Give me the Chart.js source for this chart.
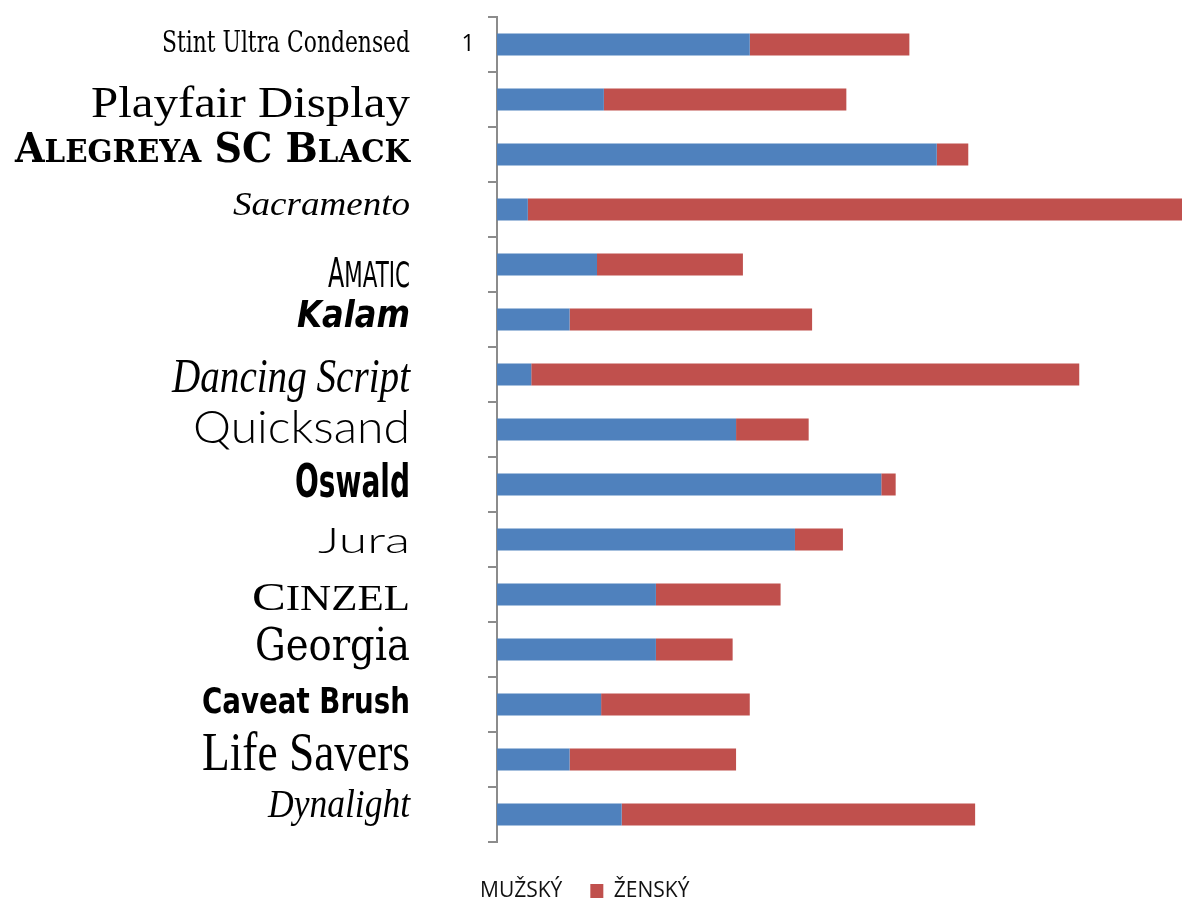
<!DOCTYPE html>
<html>
<head>
<meta charset="utf-8">
<script src="https://cdn.jsdelivr.net/npm/chart.js"></script>
<style>
  html, body { margin: 0; padding: 0; background: #fff; }
  #wrap { width: 1182px; height: 903px; }
</style>
</head>
<body>
<div id="wrap"><canvas id="fontsChart" width="1182" height="903"></canvas></div>
<script>
// fonts rated by respondents, split by gender
const fontNames = [
    'Stint Ultra Condensed', 'Playfair Display', 'Alegreya SC Black', 'Sacramento',
    'Amatic', 'Kalam', 'Dancing Script', 'Quicksand', 'Oswald', 'Jura',
    'Cinzel', 'Georgia', 'Caveat Brush', 'Life Savers', 'Dynalight'
];
const maleValues   = [36.9, 15.6, 64.2, 4.5, 14.6, 10.6, 5.0, 34.9, 56.1, 43.5, 23.2, 23.2, 15.2, 10.6, 18.2];
const femaleValues = [23.3, 35.4, 4.6, 95.5, 21.3, 35.4, 80.0, 10.6, 2.1, 7.0, 18.2, 11.2, 21.7, 24.3, 51.6];
const seriesLabels = ['MUŽSKÝ', 'ŽENSKÝ'];
const firstTickLabel = '1';
const axisMax = 100;

// how each font name is drawn (closest installed font, stretched to the original width)
// caps: lowercase letters are drawn as capitals at that fraction of the size
const labelStyles = [
    { family: 'DejaVu Serif', weight: 400, size: 29, width: 248, dy: 7.5 },
    { family: 'Liberation Serif', weight: 400, size: 45, width: 319, dy: 17.5 },
    { family: 'DejaVu Serif', weight: 700, caps: 0.77, size: 41, width: 395, dy: 7.5 },
    { family: 'Liberation Serif', style: 'italic', weight: 400, size: 34, width: 177, dy: 5.5 },
    { family: 'DejaVu Sans', weight: 400, caps: 0.9, size: 40, width: 82, dy: 22.5 },
    { family: 'DejaVu Sans', style: 'italic', weight: 700, size: 38, width: 113, dy: 7.5 },
    { family: 'Liberation Serif', style: 'italic', weight: 400, size: 48, width: 238, dy: 17.5 },
    { family: 'Lato', weight: 300, size: 45, width: 217, dy: 13.5 },
    { family: 'DejaVu Sans', weight: 700, size: 46, width: 115, dy: 12.5 },
    { family: 'Lato', weight: 300, size: 36, width: 92, dy: 13.5 },
    { family: 'Liberation Serif', weight: 400, caps: 0.85, size: 41, width: 158, dy: 15.5 },
    { family: 'DejaVu Serif', weight: 400, size: 44, width: 155, dy: 10.5 },
    { family: 'DejaVu Sans', weight: 700, size: 35, width: 208, dy: 8.5 },
    { family: 'Liberation Serif', weight: 400, size: 54, width: 208, dy: 10.5 },
    { family: 'Liberation Serif', style: 'italic', weight: 400, size: 40, width: 142, dy: 2.5 }
];

function fontString(s, size) {
    return `${s.style || 'normal'} ${s.weight} ${size}px '${s.family}'`;
}

// split a label into runs, so small caps can be drawn at their own size
function labelRuns(text, s) {
    if (!s.caps) return [{ text, font: fontString(s, s.size) }];
    return text.match(/[^a-z]+|[a-z]+/g).map(part => /[a-z]/.test(part)
        ? { text: part.toUpperCase(), font: fontString(s, s.size * s.caps) }
        : { text: part, font: fontString(s, s.size) });
}

// draws the font names left of the axis, plus the lone "1" tick label
const fontLabelsPlugin = {
    id: 'fontLabels',
    afterDraw(chart) {
        const ctx = chart.ctx;
        const yScale = chart.scales.y;
        const right = chart.chartArea.left - 87;
        ctx.save();
        ctx.fillStyle = '#000';
        ctx.textAlign = 'left';
        ctx.textBaseline = 'alphabetic';
        fontNames.forEach((name, i) => {
            const s = labelStyles[i];
            const runs = labelRuns(name, s);
            let total = 0;
            runs.forEach(r => { ctx.font = r.font; r.w = ctx.measureText(r.text).width; total += r.w; });
            ctx.save();
            ctx.translate(right, yScale.getPixelForTick(i) + s.dy);
            ctx.scale(s.width / total, 1);
            let x = -total;
            runs.forEach(r => { ctx.font = r.font; ctx.fillText(r.text, x, 0); x += r.w; });
            ctx.restore();
        });
        ctx.font = "400 23px 'Open Sans'";
        ctx.textAlign = 'center';
        ctx.fillText(firstTickLabel, chart.chartArea.left - 29, yScale.getPixelForTick(0) + 6.5);
        ctx.restore();
    }
};

const axisGrey = '#8c8c8c';

new Chart(document.getElementById('fontsChart'), {
    type: 'bar',
    data: {
        labels: fontNames,
        datasets: [
            {
                label: seriesLabels[0],
                data: maleValues,
                backgroundColor: '#4f81bd',
                borderWidth: 0,
                barPercentage: 0.4,
                categoryPercentage: 1
            },
            {
                label: seriesLabels[1],
                data: femaleValues,
                backgroundColor: '#c0504d',
                borderWidth: 0,
                barPercentage: 0.4,
                categoryPercentage: 1
            }
        ]
    },
    options: {
        indexAxis: 'y',
        responsive: false,
        animation: false,
        layout: {
            padding: { left: 428.5, right: 0, top: 17, bottom: -8.5 }
        },
        plugins: {
            tooltip: { enabled: false },
            legend: {
                position: 'bottom',
                align: 'start',
                title: { display: true, text: '', font: { size: 1 }, padding: { top: 9.3, bottom: 0 } },
                labels: {
                    color: '#111',
                    boxWidth: 13,
                    boxHeight: 14,
                    padding: 28,
                    font: { family: "'Open Sans'", size: 21 },
                    generateLabels(chart) {
                        const items = Chart.defaults.plugins.legend.labels.generateLabels(chart);
                        // the first series has no colour swatch in the original legend
                        items[0].fillStyle = 'rgba(0,0,0,0)';
                        items[0].strokeStyle = 'rgba(0,0,0,0)';
                        items[0].lineWidth = 0;
                        return items;
                    }
                }
            }
        },
        scales: {
            x: {
                stacked: true,
                display: false,
                min: 0,
                max: axisMax
            },
            y: {
                stacked: true,
                offset: true,
                ticks: { display: false },
                grid: {
                    offset: true,
                    drawOnChartArea: false,
                    drawTicks: true,
                    tickLength: 9,
                    color: axisGrey,
                    lineWidth: 2
                },
                border: { display: true, color: axisGrey, width: 2 },
                afterFit(scale) { scale.width = 68.5; }
            }
        }
    },
    plugins: [fontLabelsPlugin]
});
</script>
</body>
</html>
